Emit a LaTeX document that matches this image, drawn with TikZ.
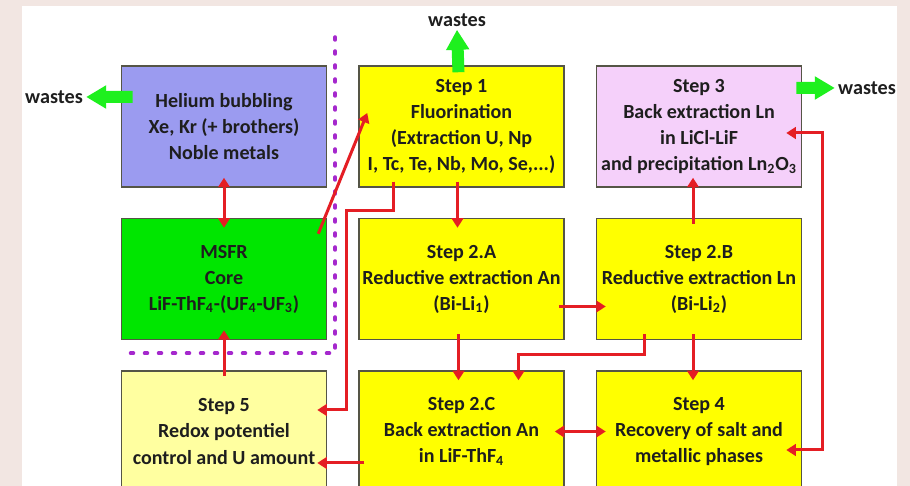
\documentclass[tikz,border=0pt]{standalone}
\usepackage{fontspec}
\setmainfont{Carlito}
\usetikzlibrary{arrows.meta, positioning, calc}
\definecolor{slidebg}{RGB}{242,230,226}
\definecolor{heblue}{RGB}{155,155,240}
\definecolor{stepyellow}{RGB}{255,255,0}
\definecolor{paleyellow}{RGB}{255,255,160}
\definecolor{lnpink}{RGB}{245,208,250}
\definecolor{coregreen}{RGB}{0,230,0}
\definecolor{flowred}{RGB}{228,30,36}
\definecolor{wastegreen}{RGB}{30,240,30}
\definecolor{dotpurple}{RGB}{165,40,205}
\definecolor{edgegray}{RGB}{85,85,70}
\definecolor{inkgray}{RGB}{30,30,30}

\begin{document}
\begin{tikzpicture}[
    x=0.2mm, y=0.2mm,
    node distance=0.6cm and 0.62cm,
    box/.style={draw=edgegray, line width=0.3mm, rectangle, minimum width=4.1cm, minimum height=2.42cm, inner sep=0pt, align=center, text=inkgray, font=\bfseries\fontsize{11.4}{14.8}\selectfont},
    stepbox/.style={box, fill=stepyellow},
    flow/.style={draw=flowred, line width=0.6mm, -{Triangle[length=1.9mm, width=2.3mm]}, shorten >=-2mm, shorten <=-1.2mm},
    dualflow/.style={flow, {Triangle[length=1.9mm, width=2.3mm]}-{Triangle[length=1.9mm, width=2.3mm]}, shorten <=-2mm},
    wasteflow/.style={draw=wastegreen, line width=2.4mm, -{Triangle[length=4mm, width=4.4mm]}},
    wastetext/.style={text=inkgray, font=\bfseries\fontsize{11.5}{13}\selectfont, inner sep=0.6mm},
    divider/.style={draw=dotpurple, line width=0.8mm, line cap=round, dash pattern=on 0.5mm off 2.3mm}
]

\useasboundingbox (0,0) rectangle (910,486);
\clip (0,0) rectangle (910,486);
\fill[slidebg] (0,0) rectangle (910,486);
\fill[white] (22,0) rectangle (897,480);

\node[box, fill=heblue] (helium) at (224,359.5) {Helium bubbling\\Xe, Kr (+ brothers)\\Noble metals};
\node[stepbox, right=of helium] (step1) {Step 1\\Fluorination\\(Extraction U, Np\\I, Tc, Te, Nb, Mo, Se,...)};
\node[box, fill=lnpink, right=of step1] (step3) {Step 3\\Back extraction Ln\\in LiCl-LiF\\and precipitation Ln\textsubscript{2}O\textsubscript{3}};
\node[box, fill=coregreen, below=of helium] (msfr) {MSFR\\Core\\LiF-ThF\textsubscript{4}-(UF\textsubscript{4}-UF\textsubscript{3})};
\node[stepbox, below=of step1] (stepA) {Step 2.A\\Reductive extraction An\\(Bi-Li\textsubscript{1})};
\node[stepbox, below=of step3] (stepB) {Step 2.B\\Reductive extraction Ln\\(Bi-Li\textsubscript{2})};
\node[box, fill=paleyellow, below=of msfr] (step5) {Step 5\\Redox potentiel\\control and U amount};
\node[stepbox, below=of stepA] (stepC) {Step 2.C\\Back extraction An\\in LiF-ThF\textsubscript{4}};
\node[stepbox, below=of stepB] (step4) {Step 4\\Recovery of salt and\\metallic phases};

\node[wastetext] (wasteL) at (54,389) {wastes};
\node[wastetext] (wasteT) at (457,466) {wastes};
\node[wastetext] (wasteR) at (867,398) {wastes};

\draw[divider] ($(helium.north east)+(8,28)$) |- ($(msfr.south west)+(0,-13)$);

\draw[wasteflow] ($(helium.west)+(12,29.5)$) -- (wasteL.east);
\draw[wasteflow] ($(step1.north)+(-3,-7)$) -- (wasteT.south);
\draw[wasteflow] ($(step3.east)+(-6,38.5)$) -- (wasteR.west);

\draw[dualflow] (helium) -- (msfr);
\draw[flow] (step5) -- (msfr);
\draw[flow, shorten <=0pt, shorten >=0pt] ($(msfr.north east)+(-9,-16)$) -- ($(step1.west)+(9,13.5)$);
\draw[flow] ($(step1.south)+(-68,0)$) -- ++(0,-23) -- ++(-47,0) |- ($(step5.east)+(0,21.5)$);
\draw[flow] ($(step1.south)+(-4,0)$) -- ($(stepA.north)+(-4,0)$);
\draw[flow] ($(stepA.south)+(-3,0)$) -- ($(stepC.north)+(-3,0)$);
\draw[flow] ($(stepA.east)+(0,-27.5)$) -- ($(stepB.west)+(0,-27.5)$);
\draw[flow] ($(stepB.south)+(-55,0)$) -- ++(0,-14) -| ($(stepC.north)+(57,0)$);
\draw[flow] ($(stepB.south)+(-6,0)$) -- ($(step4.north)+(-6,0)$);
\draw[flow] ($(stepB.north)+(-6,0)$) -- ($(step3.south)+(-6,0)$);
\draw[dualflow] (stepC) -- (step4);
\draw[flow] ($(stepC.west)+(0,-31.5)$) -- ($(step5.east)+(0,-31.5)$);
\draw[dualflow] ($(step3.east)+(-6,-6.5)$) -- ++(26,0) |- ($(step4.east)+(-6,-18.5)$);

\end{tikzpicture}
\end{document}
